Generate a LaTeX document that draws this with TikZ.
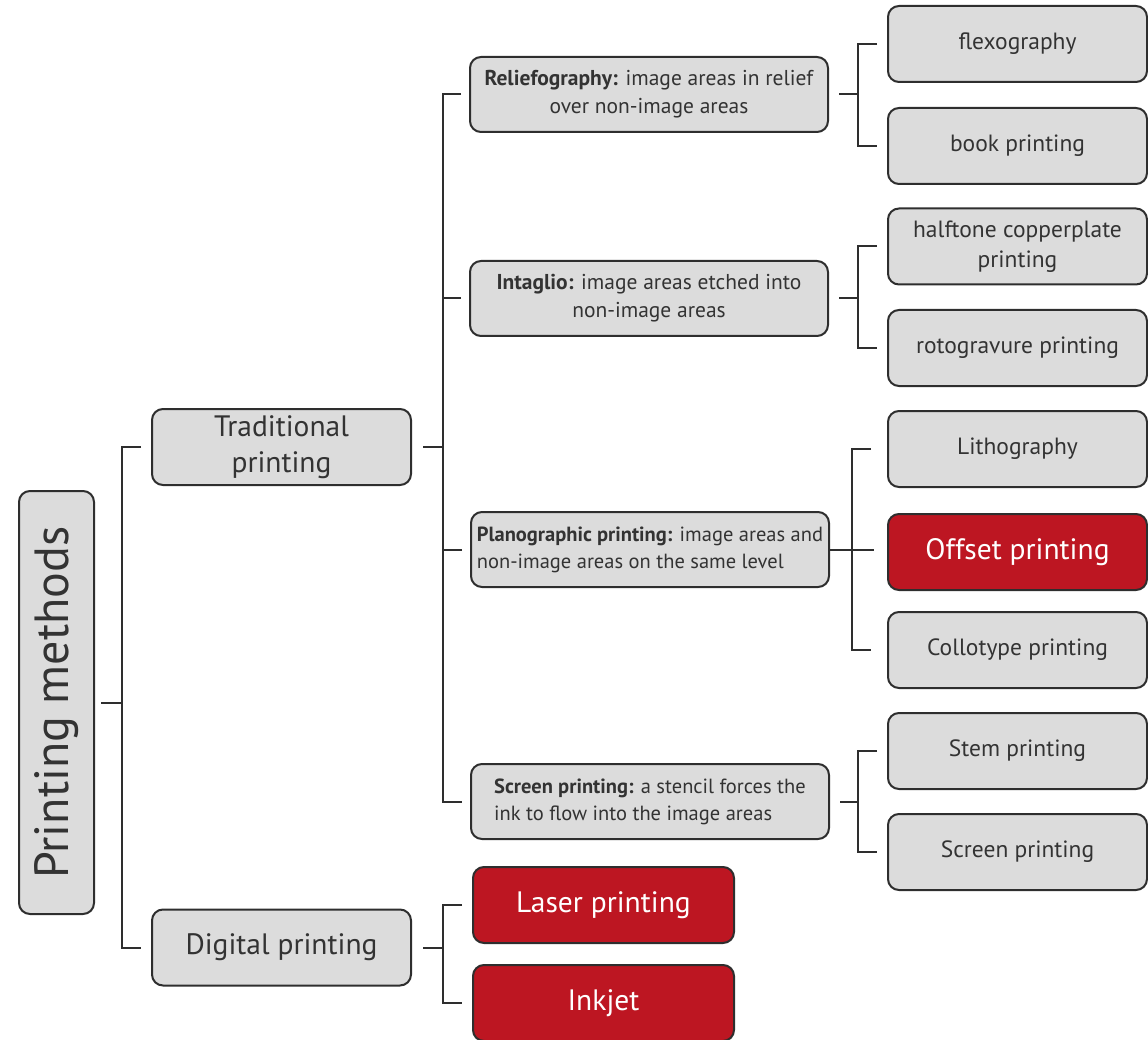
\documentclass[tikz,border=0pt]{standalone}
\usepackage{fontspec}
\setmainfont{PT Sans}
\definecolor{boxgray}{HTML}{DCDCDC}
\definecolor{boxred}{HTML}{BD1622}
\definecolor{linegray}{HTML}{2E2E2E}
\definecolor{textgray}{HTML}{333333}
\tikzset{
  gbox/.style={draw=linegray, line width=2pt, rounded corners=11pt, fill=boxgray, text=textgray,
    minimum width=259pt, minimum height=76pt, inner sep=3pt, align=center},
  rbox/.style={gbox, fill=boxred, text=white},
  midbox/.style={gbox, minimum width=358pt, minimum height=75pt, font=\fontsize{21.5}{28}\selectfont},
  leaf/.style={gbox, font=\fontsize{23.5}{30}\selectfont},
  conn/.style={draw=linegray, line width=2pt}
}
\begin{document}
\begin{tikzpicture}[x=1pt,y=-1pt]
  \useasboundingbox (0,0) rectangle (1148,1040);
  \node[gbox, rotate=90, minimum width=423pt, minimum height=75pt, font=\fontsize{48}{54}\selectfont] (pm) at (56.5,702.5) {Printing methods};
  \node[gbox, font=\fontsize{29.5}{36}\selectfont] (trad) at (281.5,447) {Traditional\\printing};
  \node[gbox, font=\fontsize{29.5}{36}\selectfont] (dig) at (281.5,947.5) {Digital printing};
  \node[midbox] (relief) at (649,94.5) {\textbf{Reliefography:} image areas in relief\\over non-image areas};
  \node[midbox] (intag) at (649,298.5) {\textbf{Intaglio:} image areas etched into\\non-image areas};
  \node[midbox, align=left, font=\fontsize{20.5}{27}\selectfont] (plano) at (650,549.5) {\textbf{Planographic printing:} image areas and\\non-image areas on the same level};
  \node[midbox, align=left, font=\fontsize{20.5}{27}\selectfont] (scrn) at (650,801.5) {\textbf{Screen printing:} a stencil forces the\\ink to flow into the image areas};
  \node[rbox, minimum width=261pt, font=\fontsize{29.5}{36}\selectfont] (laser) at (603.5,905) {Laser printing};
  \node[rbox, minimum width=261pt, font=\fontsize{29.5}{36}\selectfont] (inkjet) at (603.5,1003) {Inkjet};
  \foreach \n/\y/\t in {flexo/44/flexography, book/146/book printing, half/246.5/{halftone copperplate\\printing}, roto/348/rotogravure printing, litho/449/Lithography, collo/650/Collotype printing, stem/751/Stem printing, screen/852/Screen printing}
  {
    \node[leaf] (\n) at (1017.5,\y) {\t};
  }
  \node[rbox, font=\fontsize{29.5}{36}\selectfont] (offset) at (1017.5,552) {Offset printing};

  \coordinate (j0) at (122,702.5);
  \draw[conn] ([xshift=6pt]pm.south) -- (j0);
  \draw[conn] ([xshift=-10pt]trad.west) -| (j0) |- ([xshift=-10pt]dig.west);

  \coordinate (j1) at (443,447);
  \draw[conn] ([xshift=11pt]trad.east) -- (j1);
  \draw[conn] ([xshift=-8pt]relief.west) -| (j1) |- ([xshift=-8pt]scrn.west);
  \draw[conn] ([xshift=-8pt]intag.west) -- (intag.west -| j1);
  \draw[conn] ([xshift=-8pt]plano.west) -- (plano.west -| j1);

  \coordinate (j2) at (443,947.5);
  \draw[conn] ([xshift=11pt]dig.east) -- (j2);
  \draw[conn] ([xshift=-10pt]laser.west) -| (j2) |- ([xshift=-10pt]inkjet.west);

  \coordinate (j3) at (858,94.5);
  \draw[conn] ([xshift=10pt]relief.east) -- (j3);
  \draw[conn] ([xshift=-10pt]flexo.west) -| (j3) |- ([xshift=-10pt]book.west);

  \coordinate (j4) at (858,298.5);
  \draw[conn] ([xshift=10pt]intag.east) -- (j4);
  \draw[conn] ([xshift=-10pt]half.west) -| (j4) |- ([xshift=-10pt]roto.west);

  \coordinate (j5) at (852,549.5);
  \draw[conn] (plano.east) -- ([xshift=-13pt]offset.west |- plano.east);
  \draw[conn] ([xshift=-16pt]litho.west) -| (j5) |- ([xshift=-16pt]collo.west);

  \coordinate (j6) at (858,801.5);
  \draw[conn] ([xshift=10pt]scrn.east) -- (j6);
  \draw[conn] ([xshift=-10pt]stem.west) -| (j6) |- ([xshift=-10pt]screen.west);
\end{tikzpicture}
\end{document}
